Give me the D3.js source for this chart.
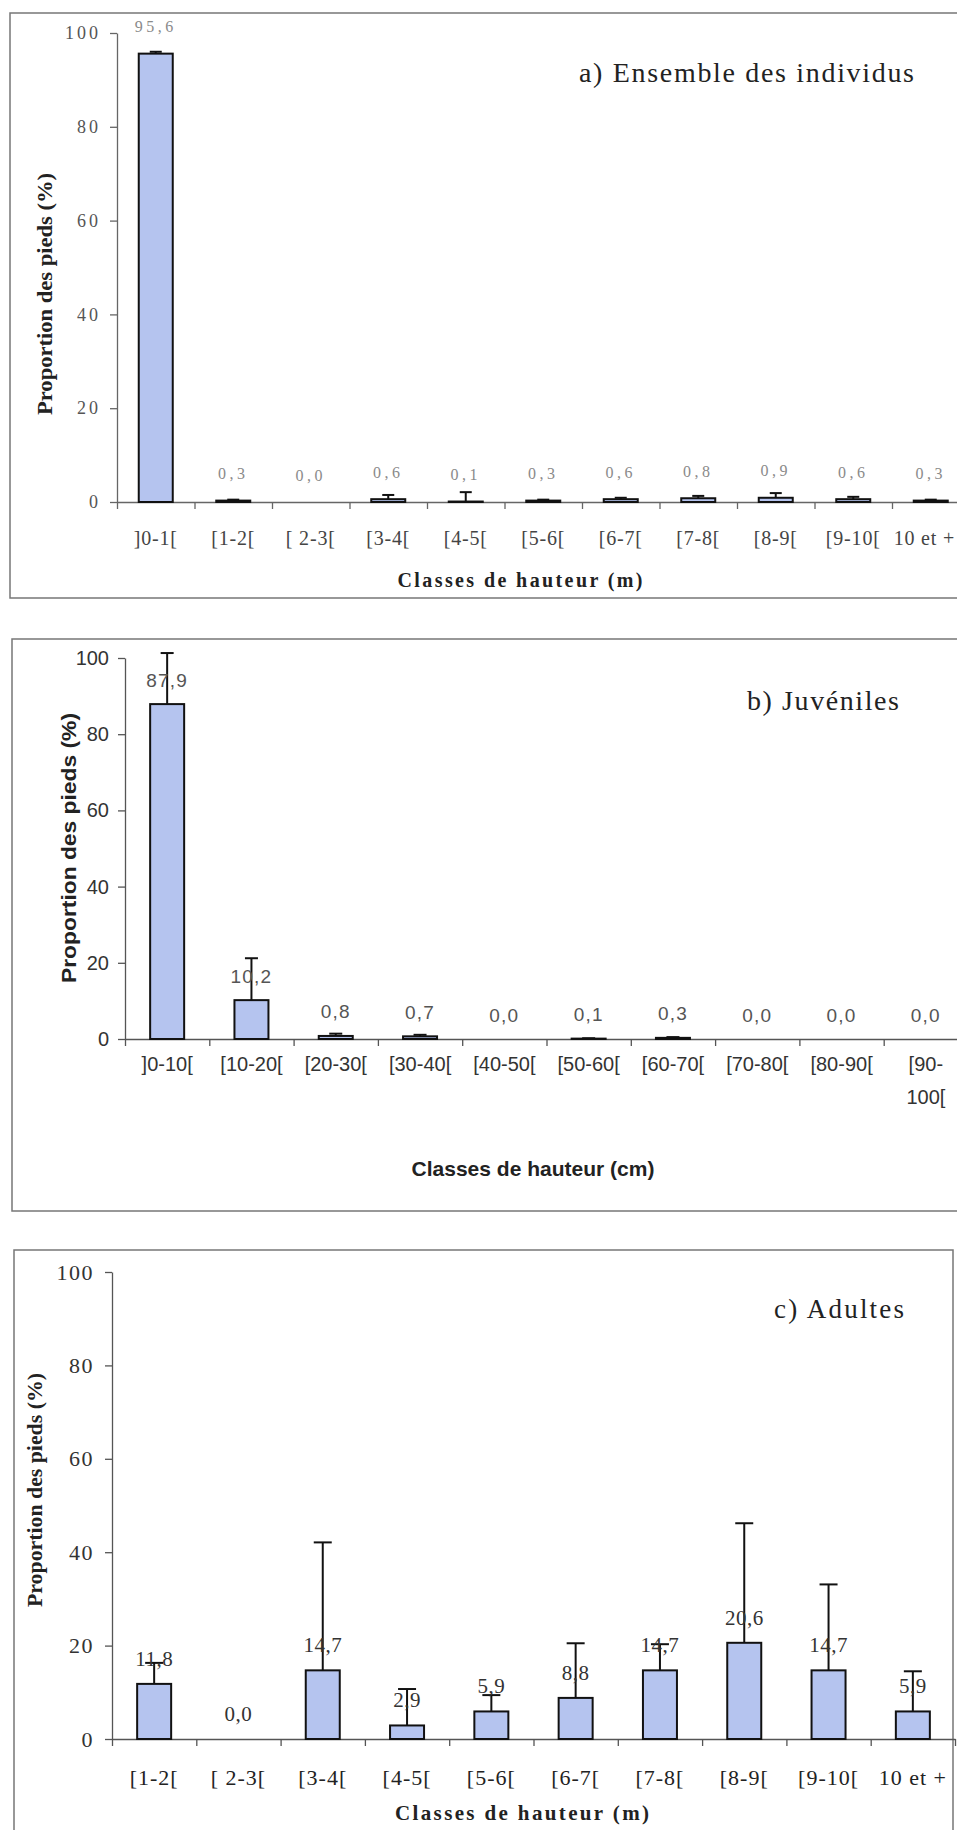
<!DOCTYPE html>
<html>
<head>
<meta charset="utf-8">
<script src="https://cdn.jsdelivr.net/npm/d3@7"></script>
<style>
  html, body { margin: 0; padding: 0; background: #fff; }
  svg { display: block; }
</style>
</head>
<body>
<svg id="chart" width="957" height="1830"></svg>
<script>
// ---- Data -------------------------------------------------------------
const yTicks = [0, 20, 40, 60, 80, 100];
const yTitle = "Proportion des pieds (%)";

// a) all individuals, height classes in metres
const titleA = "a) Ensemble des individus";
const xTitleA = "Classes de hauteur (m)";
const categoriesA = ["]0-1[", "[1-2[", "[ 2-3[", "[3-4[", "[4-5[", "[5-6[", "[6-7[", "[7-8[", "[8-9[", "[9-10[", "10 et +"];
const valuesA = [95.6, 0.3, 0.0, 0.6, 0.1, 0.3, 0.6, 0.8, 0.9, 0.6, 0.3];
const errorsA = [0.4, 0.2, 0.0, 0.9, 2.0, 0.2, 0.3, 0.5, 1.0, 0.5, 0.2];

// b) juveniles, height classes in centimetres
const titleB = "b) Juvéniles";
const xTitleB = "Classes de hauteur (cm)";
const categoriesB = ["]0-10[", "[10-20[", "[20-30[", "[30-40[", "[40-50[", "[50-60[", "[60-70[", "[70-80[", "[80-90[", "[90-100["];
const valuesB = [87.9, 10.2, 0.8, 0.7, 0.0, 0.1, 0.3, 0.0, 0.0, 0.0];
const errorsB = [13.4, 11.0, 0.6, 0.4, 0.0, 0.1, 0.2, 0.0, 0.0, 0.0];

// c) adults, height classes in metres
const titleC = "c) Adultes";
const xTitleC = "Classes de hauteur (m)";
const categoriesC = ["[1-2[", "[ 2-3[", "[3-4[", "[4-5[", "[5-6[", "[6-7[", "[7-8[", "[8-9[", "[9-10[", "10 et +"];
const valuesC = [11.8, 0.0, 14.7, 2.9, 5.9, 8.8, 14.7, 20.6, 14.7, 5.9];
const errorsC = [4.5, 0.0, 27.4, 7.8, 3.5, 11.7, 5.6, 25.6, 18.4, 8.6];

// ---- Styling ----------------------------------------------------------
const SERIF = "'Liberation Serif', 'Times New Roman', serif";
const SANS = "'Liberation Sans', Arial, sans-serif";
const BAR_FILL = "#b5c4ef";
const PAGE_W = 957;
const fmt = v => d3.format(".1f")(v).replace(".", ",");

const svg = d3.select("#chart");
svg.append("rect").attr("width", PAGE_W).attr("height", 1830).attr("fill", "#fff");

const panels = [
  {
    cats: categoriesA, vals: valuesA, errs: errorsA, title: titleA, xTitle: xTitleA,
    frame: { x: 10, y: 13, w: 990, h: 585, right: false },
    x0: 117, step: 77.5, yZero: 502, yTop: 33, barW: 34, cap: 12,
    tickFont: SERIF, tickSize: 18, tickSpacing: 3, tickFill: "#555", tickX: 9,
    yTitleFont: SERIF, yTitleSize: 21, yTitleLen: 242, yTitlePos: [45, 294],
    catY: 538, catFont: SERIF, catSize: 20, catSpacing: 0.8, catFill: "#444",
    valFont: SERIF, valSize: 16, valSpacing: 3.5, valFill: "#8a8a8a", valDy: 27,
    xTitleFont: SERIF, xTitleSize: 20, xTitleLen: 245, xTitlePos: [520, 580],
    titleX: 579, titleY: 82, titleSize: 28, titleLen: 335, axisColor: "#666"
  },
  {
    cats: categoriesB, vals: valuesB, errs: errorsB, title: titleB, xTitle: xTitleB,
    frame: { x: 12, y: 639, w: 990, h: 572, right: false },
    x0: 125, step: 84.3, yZero: 1039, yTop: 658, barW: 34, cap: 13,
    tickFont: SANS, tickSize: 20, tickSpacing: 0, tickFill: "#333", tickX: 9,
    yTitleFont: SANS, yTitleSize: 21, yTitleLen: 270, yTitlePos: [68, 848],
    catY: 1064, catFont: SANS, catSize: 20, catSpacing: 0, catFill: "#333", wrap: true, wrapGap: 33,
    valFont: SANS, valSize: 19, valSpacing: 1.2, valFill: "#555", valDy: 24,
    xTitleFont: SANS, xTitleSize: 21, xTitleLen: 243, xTitlePos: [533, 1168],
    titleX: 747, titleY: 710, titleSize: 28, titleLen: 152, axisColor: "#555"
  },
  {
    cats: categoriesC, vals: valuesC, errs: errorsC, title: titleC, xTitle: xTitleC,
    frame: { x: 14, y: 1250, w: 939, h: 600, right: true },
    x0: 112, step: 84.3, yZero: 1739, yTop: 1272, barW: 34, cap: 18,
    tickFont: SERIF, tickSize: 22, tickSpacing: 1.5, tickFill: "#333", tickX: 11,
    yTitleFont: SERIF, yTitleSize: 20, yTitleLen: 234, yTitlePos: [35, 1490],
    catY: 1777, catFont: SERIF, catSize: 22, catSpacing: 1, catFill: "#222",
    valFont: SERIF, valSize: 21, valSpacing: 0.5, valFill: "#333", valDy: 25,
    xTitleFont: SERIF, xTitleSize: 21, xTitleLen: 254, xTitlePos: [522, 1813],
    titleX: 774, titleY: 1318, titleSize: 27, titleLen: 130, axisColor: "#555"
  }
];

panels.forEach(drawPanel);

function drawPanel(p) {
  const g = svg.append("g");
  const n = p.cats.length;
  const width = n * p.step;

  // frame around the panel
  const f = p.frame;
  const framePath = f.right
    ? `M${f.x + f.w},${f.y + f.h} L${f.x + f.w},${f.y} L${f.x},${f.y} L${f.x},${f.y + f.h}`
    : `M${f.x + f.w},${f.y} L${f.x},${f.y} L${f.x},${f.y + f.h} L${f.x + f.w},${f.y + f.h}`;
  g.append("path").attr("d", framePath)
    .attr("fill", "none").attr("stroke", "#777").attr("stroke-width", 1.5);

  // scales
  const pad = 1 - p.barW / p.step;
  const x = d3.scaleBand().domain(p.cats)
    .range([p.x0, p.x0 + width]).paddingInner(pad).paddingOuter(pad / 2);
  const xEdges = d3.scaleLinear().domain([0, n]).range([p.x0, p.x0 + width]);
  const y = d3.scaleLinear().domain([0, 100]).range([p.yZero, p.yTop]);

  // y axis
  const yAxis = g.append("g").attr("transform", `translate(${p.x0},0)`)
    .call(d3.axisLeft(y).tickValues(yTicks).tickSize(7).tickSizeOuter(0).tickPadding(p.tickX));
  yAxis.select(".domain").attr("stroke", p.axisColor).attr("stroke-width", 1.3);
  yAxis.selectAll(".tick line").attr("stroke", p.axisColor).attr("stroke-width", 1.3);
  yAxis.selectAll(".tick text")
    .attr("font-family", p.tickFont).attr("font-size", p.tickSize)
    .attr("letter-spacing", p.tickSpacing).attr("fill", p.tickFill);

  // x axis: line with ticks at class boundaries
  const xAxis = g.append("g").attr("transform", `translate(0,${p.yZero})`)
    .call(d3.axisBottom(xEdges).tickValues(d3.range(n + 1)).tickFormat("").tickSize(7).tickSizeOuter(0));
  xAxis.select(".domain").attr("stroke", p.axisColor).attr("stroke-width", 1.3);
  xAxis.selectAll(".tick line").attr("stroke", p.axisColor).attr("stroke-width", 1.3);

  // x axis: class labels centred on bands, kept inside the page width
  const xLab = g.append("g").attr("transform", `translate(0,${p.catY})`)
    .call(d3.axisBottom(x).tickSize(0).tickPadding(0).tickFormat(() => ""));
  xLab.select(".domain").remove();
  xLab.selectAll(".tick").each(function (d) {
    const centre = x(d) + x.bandwidth() / 2;
    const t = d3.select(this).append("text")
      .attr("font-family", p.catFont).attr("font-size", p.catSize)
      .attr("letter-spacing", p.catSpacing).attr("fill", p.catFill)
      .attr("text-anchor", "middle").attr("dominant-baseline", "central");
    if (p.wrap && d.length > 7) {
      const cut = d.indexOf("-") + 1;
      t.append("tspan").attr("x", 0).attr("y", 0).text(d.slice(0, cut));
      t.append("tspan").attr("x", 0).attr("y", p.wrapGap).text(d.slice(cut));
    } else {
      t.text(d);
      const half = t.node().getComputedTextLength() / 2;
      const overflow = centre + half - (PAGE_W - 2);
      if (overflow > 0) t.attr("x", -overflow);
    }
  });

  const data = p.cats.map((c, i) => ({ c, v: p.vals[i], e: p.errs[i] }));

  // bars
  g.append("g").selectAll("rect").data(data).join("rect")
    .attr("x", d => x(d.c)).attr("width", x.bandwidth())
    .attr("y", d => y(d.v)).attr("height", d => y(0) - y(d.v))
    .attr("fill", BAR_FILL).attr("stroke", "#111").attr("stroke-width", 2);

  // error bars (upper whisker)
  const eb = g.append("g").selectAll("g").data(data.filter(d => d.e > 0)).join("g")
    .attr("stroke", "#111").attr("stroke-width", 2);
  eb.append("line")
    .attr("x1", d => x(d.c) + x.bandwidth() / 2).attr("x2", d => x(d.c) + x.bandwidth() / 2)
    .attr("y1", d => y(d.v)).attr("y2", d => y(d.v + d.e));
  eb.append("line")
    .attr("x1", d => x(d.c) + x.bandwidth() / 2 - p.cap / 2)
    .attr("x2", d => x(d.c) + x.bandwidth() / 2 + p.cap / 2)
    .attr("y1", d => y(d.v + d.e)).attr("y2", d => y(d.v + d.e));

  // value labels
  g.append("g").selectAll("text").data(data).join("text")
    .attr("x", d => x(d.c) + x.bandwidth() / 2)
    .attr("y", d => y(d.v) - p.valDy)
    .attr("text-anchor", "middle").attr("dominant-baseline", "central")
    .attr("font-family", p.valFont).attr("font-size", p.valSize)
    .attr("letter-spacing", p.valSpacing).attr("fill", p.valFill)
    .text(d => fmt(d.v));

  // y axis title
  g.append("text")
    .attr("transform", `translate(${p.yTitlePos[0]},${p.yTitlePos[1]}) rotate(-90)`)
    .attr("x", -p.yTitleLen / 2)
    .attr("dominant-baseline", "central")
    .attr("font-family", p.yTitleFont).attr("font-size", p.yTitleSize)
    .attr("font-weight", "bold").attr("fill", "#222")
    .attr("textLength", p.yTitleLen).attr("lengthAdjust", "spacingAndGlyphs")
    .text(yTitle);

  // x axis title
  g.append("text")
    .attr("x", p.xTitlePos[0] - p.xTitleLen / 2).attr("y", p.xTitlePos[1])
    .attr("dominant-baseline", "central")
    .attr("font-family", p.xTitleFont).attr("font-size", p.xTitleSize)
    .attr("font-weight", "bold").attr("fill", "#222")
    .attr("textLength", p.xTitleLen).attr("lengthAdjust", "spacing")
    .text(p.xTitle);

  // panel title
  g.append("text")
    .attr("x", p.titleX).attr("y", p.titleY)
    .attr("font-family", SERIF).attr("font-size", p.titleSize).attr("fill", "#222")
    .attr("textLength", p.titleLen).attr("lengthAdjust", "spacing")
    .text(p.title);
}
</script>
</body>
</html>
